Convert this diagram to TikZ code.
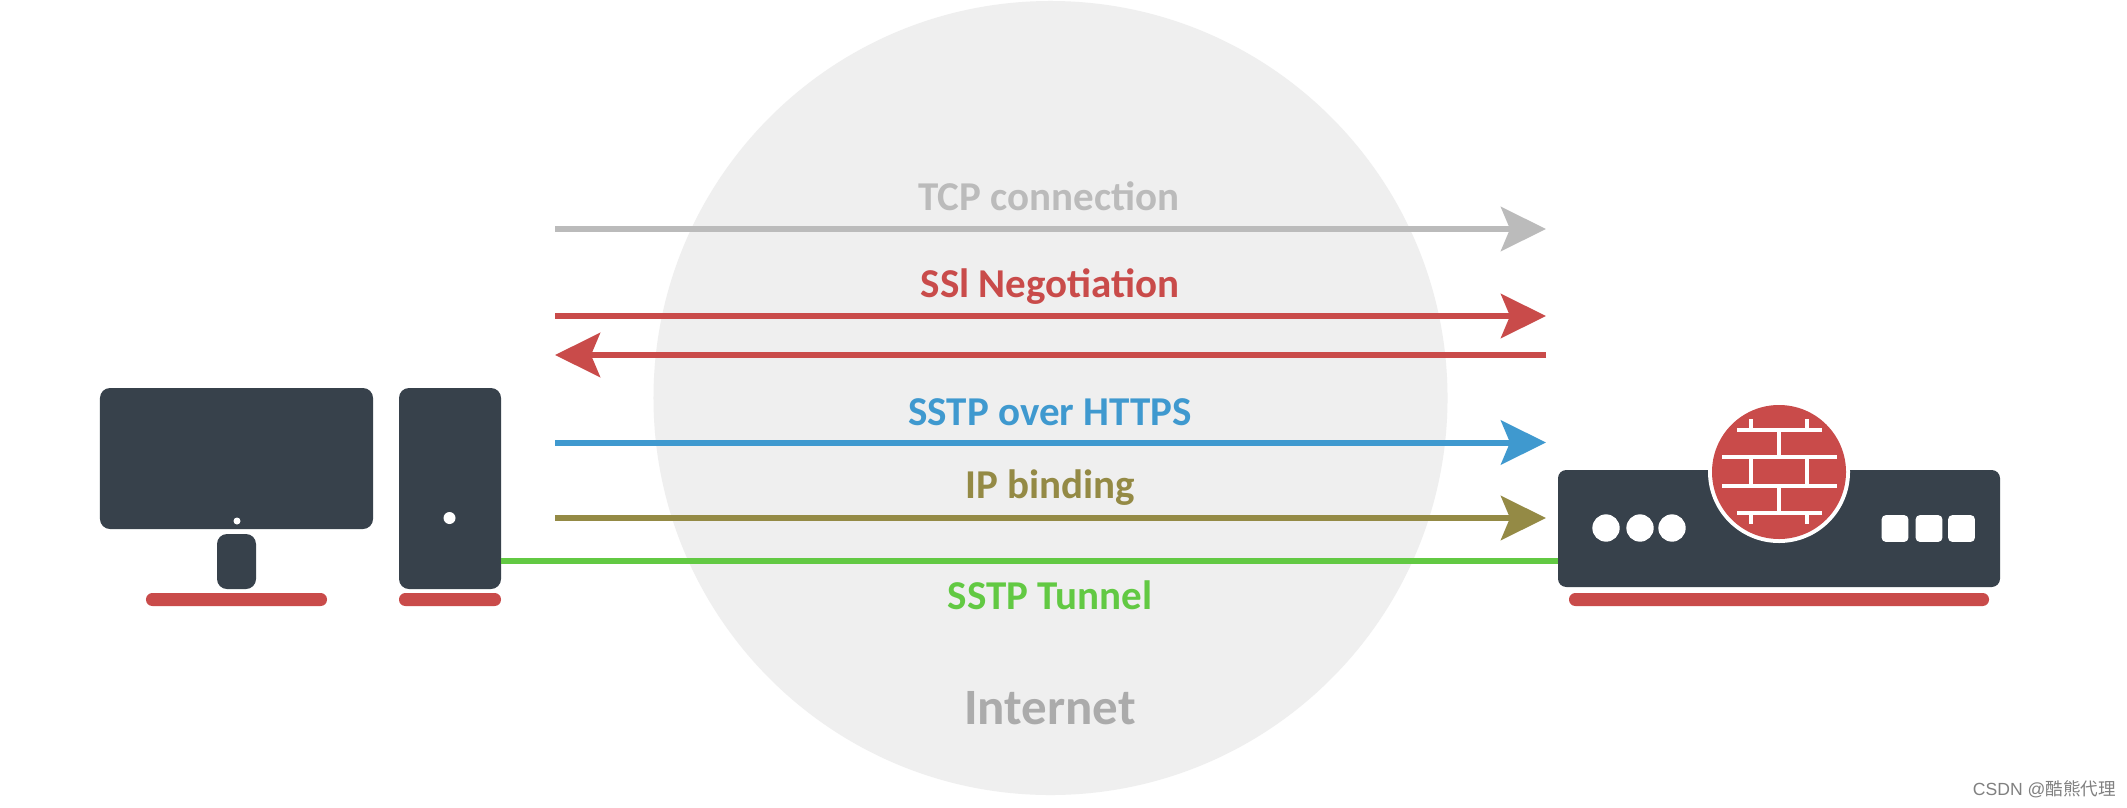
\documentclass[tikz,border=0pt]{standalone}
\usepackage{fontspec}
\setmainfont{Carlito}
\newfontfamily\wmlatin{Liberation Sans}
\newfontfamily\wmcjk{Noto Sans CJK SC}
\usetikzlibrary{arrows.meta}
\definecolor{dark}{HTML}{37414B}
\definecolor{brick}{HTML}{C94B4A}
\definecolor{cloud}{HTML}{EFEFEF}
\definecolor{cgray}{HTML}{BBBBBB}
\definecolor{cblue}{HTML}{3F99CF}
\definecolor{colive}{HTML}{948A45}
\definecolor{cgreen}{HTML}{62C943}
\definecolor{cinet}{HTML}{ABABAB}
\tikzset{
  x=0.03cm,y=-0.03cm,
  box/.style={draw=none,fill=dark,rounded corners=#1,inner sep=0pt,outer sep=0pt},
  box/.default=0.3cm,
  bar/.style={draw=none,fill=brick,rounded corners=0.19cm,inner sep=0pt,outer sep=0pt,minimum height=0.39cm},
  hole/.style={circle,draw=none,fill=white,inner sep=0pt,outer sep=0pt},
  keyhole/.style={draw=none,fill=white,rounded corners=0.12cm,inner sep=0pt,outer sep=0pt,minimum width=0.8cm,minimum height=0.8cm},
  flow/.style={line width=0.18cm,draw=#1,-{Stealth[length=1.35cm,width=1.32cm,inset=0.27cm,fill=#1]}},
  lab/.style={anchor=base,inner sep=0pt,font=\fontsize{35}{41}\selectfont\bfseries,text=#1},
  mortar/.style={draw=white,line width=0.1cm},
}
\begin{document}
\begin{tikzpicture}
\useasboundingbox (0,0) rectangle (2127,807);
\fill[white] (0,0) rectangle (2127,807);
% Internet cloud
\node[circle,fill=cloud,draw=none,inner sep=0pt,outer sep=0pt,minimum size=23.82cm] (net) at (1050.5,398) {};
% client
\node[box,minimum width=8.19cm,minimum height=4.23cm] (monitor) at (236.5,458.5) {};
\node[box,minimum width=1.17cm,minimum height=1.65cm] (stand) at (236.5,561.5) {};
\node[bar,minimum width=5.43cm] (mbar) at (236.5,599.5) {};
\node[hole,minimum size=0.21cm] (mdot) at (237,521) {};
\node[box,minimum width=3.06cm,minimum height=6.03cm] (tower) at (450,488.5) {};
\node[bar,minimum width=3.06cm] (tbar) at (450,599.5) {};
\node[hole,minimum size=0.36cm] (tdot) at (449.5,518) {};
% server
\node[box=0.25cm,minimum width=13.26cm,minimum height=3.51cm] (router) at (1779,528.5) {};
\node[bar,minimum width=12.6cm] (rbar) at (1779,599.5) {};
\node[circle,fill=white,draw=none,inner sep=0pt,outer sep=0pt,minimum size=4.26cm] (ring) at (1779,472) {};
\node[circle,fill=brick,draw=none,inner sep=0pt,outer sep=0pt,minimum size=4.02cm] (wall) at (1779,472) {};
\draw[mortar]
  (1737,430)--(1822,430) (1722,457)--(1837,457) (1722,486)--(1837,486) (1737,513)--(1822,513)
  (1751,419)--(1751,430) (1807,419)--(1807,430)
  (1779,430)--(1779,457)
  (1751,457)--(1751,486) (1807,457)--(1807,486)
  (1779,486)--(1779,513)
  (1751,513)--(1751,524) (1807,513)--(1807,524);
\foreach \n/\x in {c1/1606,c2/1640,c3/1672}
  \node[hole,minimum size=0.82cm] (\n) at (\x,528) {};
\foreach \n/\x in {k1/1895,k2/1929,k3/1961.5}
  \node[keyhole] (\n) at (\x,528.5) {};
% connector ends
\foreach \n/\y in {tcp/229,ssla/316,blue/442.5,ip/518}{
  \coordinate (\n L) at (555,\y);
  \coordinate (\n R) at (1546,\y);
}
\coordinate (sslbL) at (555,355);
\coordinate (sslbR) at (1546,355);
\draw[flow=cgray] (tcpL) -- (tcpR);
\draw[flow=brick] (sslaL) -- (sslaR);
\draw[flow=brick] (sslbR) -- (sslbL);
\draw[flow=cblue] (blueL) -- (blueR);
\draw[flow=colive] (ipL) -- (ipR);
\draw[line width=0.18cm,draw=cgreen] (tower.east |- 0,561) -- (router.west |- 0,561);
% labels
\node[lab=cgray] (ltcp) at (1049,210) {TCP connection};
\node[lab=brick] (lssl) at (1050,297.5) {SSl Negotiation};
\node[lab=cblue] (lsstp) at (1050,425) {SSTP over HTTPS};
\node[lab=colive] (lip) at (1050,498) {IP binding};
\node[lab=cgreen] (ltun) at (1050,609) {SSTP Tunnel};
\node[anchor=base,inner sep=0pt,font=\fontsize{43.5}{50}\selectfont\bfseries,text=cinet] (linet) at (1050,724) {Internet};
\node[anchor=base east,inner sep=0pt,font=\fontsize{15}{18}\selectfont,text=black!50] (mark) at (2116,795) {\wmlatin CSDN @\wmcjk 酷熊代理};
\end{tikzpicture}
\end{document}
